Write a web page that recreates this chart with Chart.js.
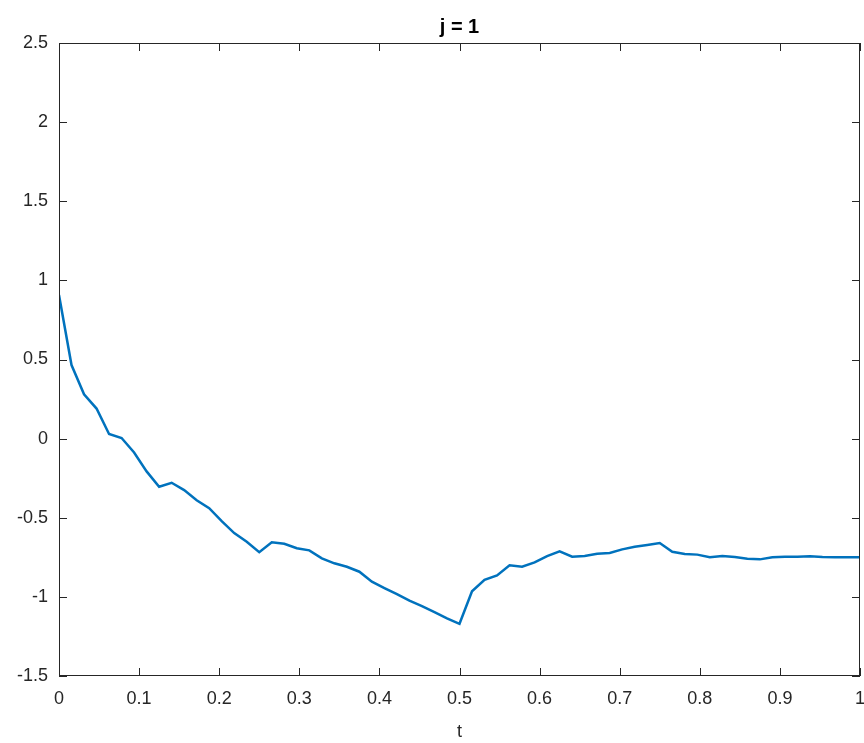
<!DOCTYPE html>
<html>
<head>
<meta charset="utf-8">
<script src="https://cdn.jsdelivr.net/npm/chart.js@4.4.0/dist/chart.umd.min.js"></script>
<style>
  html, body { margin: 0; padding: 0; background: #fff; }
  #wrap { width: 864px; height: 743px; }
</style>
</head>
<body>
<div id="wrap"><canvas id="chart" width="864" height="743"></canvas></div>
<script>
const chartTitle = "j = 1";
const xLabel = "t";

// sample times (step 1/64)
const tValues = [
  0, 0.015625, 0.03125, 0.046875, 0.0625, 0.078125, 0.09375, 0.109375,
  0.125, 0.140625, 0.15625, 0.171875, 0.1875, 0.203125, 0.21875, 0.234375,
  0.25, 0.265625, 0.28125, 0.296875, 0.3125, 0.328125, 0.34375, 0.359375,
  0.375, 0.390625, 0.40625, 0.421875, 0.4375, 0.453125, 0.46875, 0.484375,
  0.5, 0.515625, 0.53125, 0.546875, 0.5625, 0.578125, 0.59375, 0.609375,
  0.625, 0.640625, 0.65625, 0.671875, 0.6875, 0.703125, 0.71875, 0.734375,
  0.75, 0.765625, 0.78125, 0.796875, 0.8125, 0.828125, 0.84375, 0.859375,
  0.875, 0.890625, 0.90625, 0.921875, 0.9375, 0.953125, 0.96875, 0.984375,
  1
];

const yValues = [
  0.907, 0.465, 0.28, 0.19, 0.029, 0.004, -0.088, -0.207,
  -0.304, -0.279, -0.325, -0.389, -0.44, -0.522, -0.597, -0.652,
  -0.718, -0.655, -0.664, -0.693, -0.706, -0.757, -0.788, -0.81,
  -0.841, -0.904, -0.944, -0.982, -1.024, -1.058, -1.096, -1.136,
  -1.17, -0.965, -0.893, -0.864, -0.8, -0.809, -0.782, -0.742,
  -0.712, -0.746, -0.742, -0.727, -0.723, -0.7, -0.683, -0.672,
  -0.66, -0.715, -0.729, -0.733, -0.75, -0.742, -0.748, -0.759,
  -0.763, -0.75, -0.746, -0.746, -0.744, -0.748, -0.75, -0.75,
  -0.75
];

const xTicks = [0, 0.1, 0.2, 0.3, 0.4, 0.5, 0.6, 0.7, 0.8, 0.9, 1];
const yTicks = [-1.5, -1, -0.5, 0, 0.5, 1, 1.5, 2, 2.5];

const axisColor = "#262626";
const fontFamily = "'Liberation Sans', Arial, Helvetica, sans-serif";

// box, inward ticks and title, matlab style
const matlabAxes = {
  id: "matlabAxes",
  afterDraw(chart) {
    const ctx = chart.ctx;
    const a = chart.chartArea;
    const xs = chart.scales.x;
    const ys = chart.scales.y;
    const len = 8;

    ctx.save();
    ctx.strokeStyle = axisColor;
    ctx.lineWidth = 1;
    ctx.strokeRect(a.left + 0.5, a.top + 0.5, a.right - a.left - 1, a.bottom - a.top - 1);

    ctx.beginPath();
    xTicks.forEach(v => {
      const px = Math.round(xs.getPixelForValue(v)) + 0.5;
      ctx.moveTo(px, a.bottom);
      ctx.lineTo(px, a.bottom - len);
      ctx.moveTo(px, a.top);
      ctx.lineTo(px, a.top + len);
    });
    yTicks.forEach(v => {
      const py = Math.round(ys.getPixelForValue(v)) + 0.5;
      ctx.moveTo(a.left, py);
      ctx.lineTo(a.left + len, py);
      ctx.moveTo(a.right, py);
      ctx.lineTo(a.right - len, py);
    });
    ctx.stroke();

    ctx.fillStyle = "#000";
    ctx.font = "bold 20px " + fontFamily;
    ctx.textAlign = "center";
    ctx.textBaseline = "middle";
    ctx.fillText(chartTitle, (a.left + a.right) / 2, 27);
    ctx.restore();
  }
};

new Chart(document.getElementById("chart").getContext("2d"), {
  type: "line",
  data: {
    datasets: [{
      data: tValues.map((t, i) => ({ x: t, y: yValues[i] })),
      borderColor: "#0072BD",
      borderWidth: 2.5,
      pointRadius: 0,
      fill: false,
      tension: 0
    }]
  },
  options: {
    responsive: false,
    animation: false,
    layout: { padding: { top: 43, right: 4, left: 0, bottom: 0 } },
    plugins: {
      legend: { display: false },
      title: { display: false },
      tooltip: { enabled: false }
    },
    scales: {
      x: {
        type: "linear",
        min: 0,
        max: 1,
        afterBuildTicks: s => { s.ticks = xTicks.map(v => ({ value: v })); },
        afterFit: s => { s.height = 67; s.paddingLeft = 0; s.paddingRight = 0; },
        grid: { display: false, drawTicks: false },
        border: { display: false },
        ticks: {
          color: axisColor,
          padding: 12,
          maxRotation: 0,
          autoSkip: false,
          font: { family: fontFamily, size: 18 },
          callback: v => String(v)
        },
        title: {
          display: true,
          text: xLabel,
          color: axisColor,
          padding: { top: 4, bottom: 0 },
          font: { family: fontFamily, size: 18 }
        }
      },
      y: {
        type: "linear",
        min: -1.5,
        max: 2.5,
        afterBuildTicks: s => { s.ticks = yTicks.map(v => ({ value: v })); },
        afterFit: s => { s.width = 59; s.paddingTop = 0; s.paddingBottom = 0; },
        grid: { display: false, drawTicks: false },
        border: { display: false },
        ticks: {
          color: axisColor,
          padding: 11,
          autoSkip: false,
          font: { family: fontFamily, size: 18 },
          callback: v => String(v)
        }
      }
    }
  },
  plugins: [matlabAxes]
});
</script>
</body>
</html>
